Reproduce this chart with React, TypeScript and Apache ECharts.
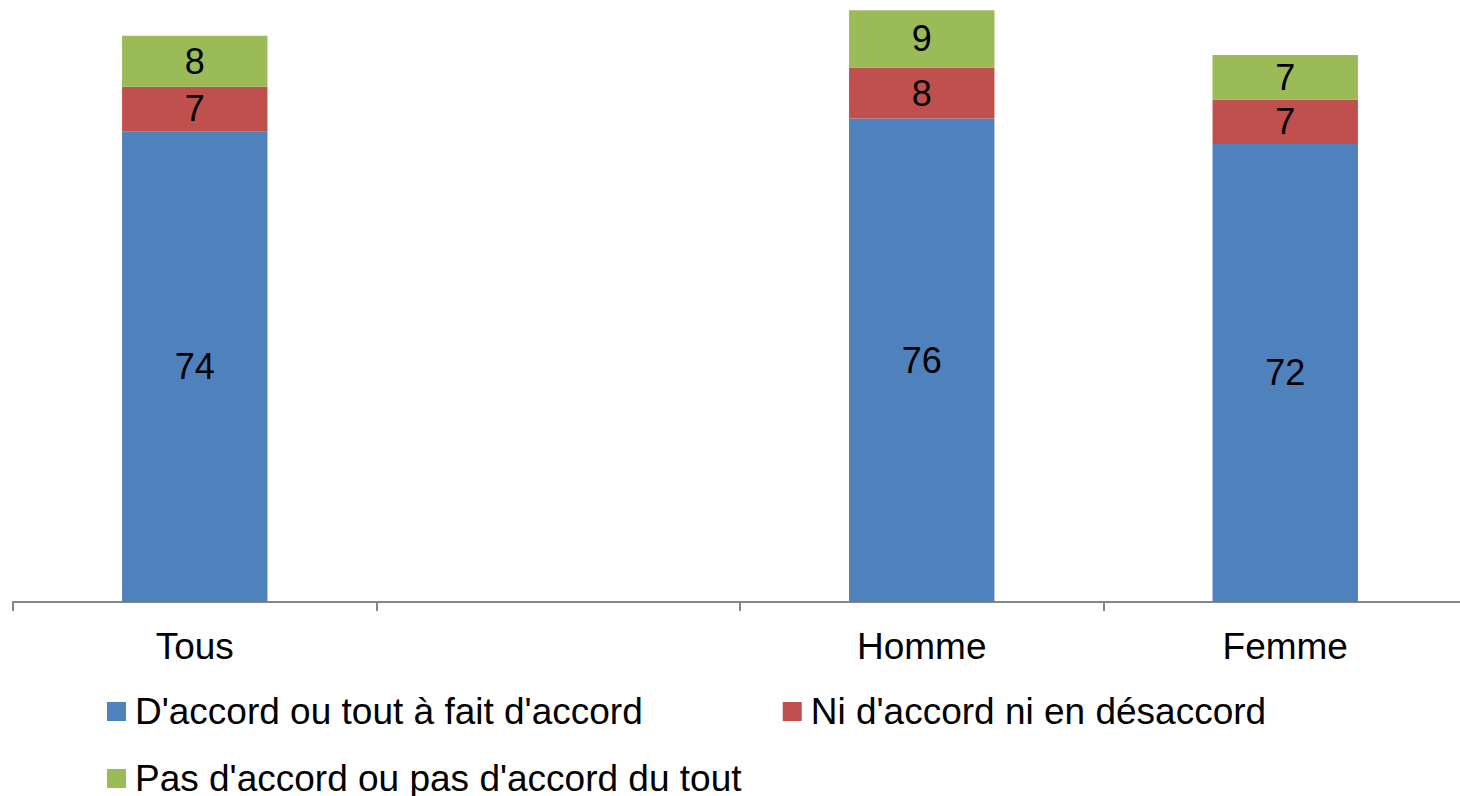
import React, { useEffect, useRef } from "react";
import * as echarts from "echarts";

const categories = ["Tous", "", "Homme", "Femme"];
const seriesNames = [
  "D'accord ou tout à fait d'accord",
  "Ni d'accord ni en désaccord",
  "Pas d'accord ou pas d'accord du tout",
];
const accord = [74, null, 76, 72];
const neutre = [7, null, 8, 7];
const desaccord = [8, null, 9, 7];
const colors = ["#4F81BD", "#C0504D", "#9BBB59"];

const FONT = "Arial, 'Liberation Sans', sans-serif";

export default function App() {
  const ref = useRef<HTMLDivElement>(null);
  useEffect(() => {
    if (!ref.current) return;
    const chart = echarts.init(ref.current, undefined, { renderer: "svg" });
    const values = [accord, neutre, desaccord];
    const legendText = { color: "#000", fontSize: 37, fontFamily: FONT, padding: [0, 0, 0, 4] };
    chart.setOption({
      animation: false,
      textStyle: { fontFamily: FONT },
      grid: { left: 13, right: 13, top: 4, bottom: 194, containLabel: false },
      xAxis: {
        type: "category",
        data: categories,
        axisLine: { show: true, lineStyle: { color: "#868686", width: 2 } },
        axisTick: { show: true, length: 9, lineStyle: { color: "#868686", width: 2 } },
        axisLabel: { color: "#000", fontSize: 37, fontFamily: FONT, margin: 26 },
      },
      yAxis: {
        type: "value",
        min: 0,
        max: 94,
        show: false,
        splitLine: { show: false },
      },
      legend: [
        {
          data: seriesNames.slice(0, 2),
          left: 102,
          top: 688,
          icon: "rect",
          itemWidth: 19,
          itemHeight: 19,
          itemGap: 140,
          textStyle: legendText,
        },
        {
          data: seriesNames.slice(2),
          left: 102,
          top: 755,
          icon: "rect",
          itemWidth: 19,
          itemHeight: 19,
          textStyle: legendText,
        },
      ],
      series: seriesNames.map((name, i) => ({
        name,
        type: "bar",
        stack: "total",
        barWidth: "40%",
        data: values[i],
        itemStyle: { color: colors[i] },
        label: {
          show: true,
          position: "inside",
          color: "#000",
          fontSize: 36,
          fontFamily: FONT,
        },
      })),
    });
    return () => chart.dispose();
  }, []);
  return (
    <div
      style={{
        position: "absolute",
        left: 0,
        top: 0,
        width: 1460,
        height: 796,
        overflow: "hidden",
        background: "#fff",
      }}
    >
      <div ref={ref} style={{ width: 1480, height: 796 }} />
    </div>
  );
}
